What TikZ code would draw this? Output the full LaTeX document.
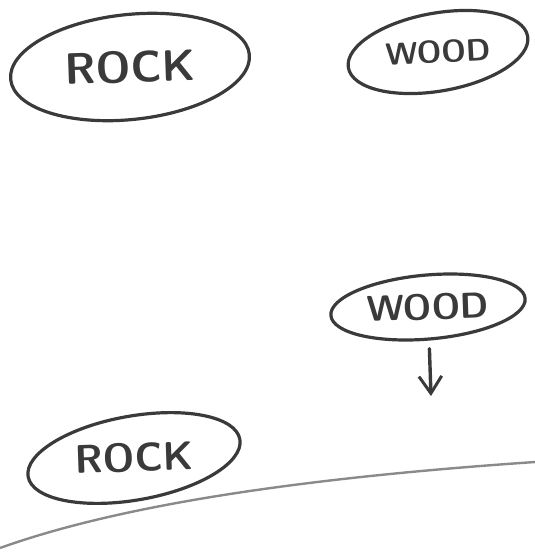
\documentclass[tikz,border=0pt]{standalone}
\usepackage{tikz}
\usetikzlibrary{positioning,arrows.meta,shapes.geometric}
\usepackage{xcolor}
\definecolor{ink}{HTML}{3A3A3A}
\definecolor{pencil}{HTML}{8A8A8A}

\begin{document}
\begin{tikzpicture}[x=1pt,y=-1pt,>={Straight Barb[length=6mm,width=8mm,line width=3pt]},
  blob/.style={draw=ink,ellipse,line width=3.2pt,inner sep=0pt,text=ink},
  bigword/.style={font=\sffamily\bfseries\fontsize{#1}{#1}\selectfont}]
\path[use as bounding box] (0,0) rectangle (535,552);
% before: rock and wood apart
\node[blob,bigword=44,minimum width=240pt,minimum height=105pt,rotate=6] (rock1) at (130,67) {\rotatebox{-4}{ROCK}};
\node[blob,bigword=31,minimum width=182pt,minimum height=78pt,rotate=10] (wood1) at (438,52) {\rotatebox{-7}{WOOD}};
% after: wood sinks, rock floats
\node[blob,bigword=36,minimum width=195pt,minimum height=64pt,rotate=5] (wood2) at (428,307) {\rotatebox{-3}{WOOD}};
\coordinate (sink) at (431,396);
\draw[->,draw=ink,line width=3.4pt,line cap=round,shorten <=8pt] (wood2) -- (sink);
\node[blob,bigword=40,minimum width=215pt,minimum height=84pt,rotate=10] (rock2) at (134,458) {\rotatebox{-8}{ROCK}};
\coordinate (shoreL) at (0,548);
\coordinate (shoreR) at (535,462);
\draw[pencil,line width=2.4pt] (shoreL) .. controls (120,505) and (300,478) .. (shoreR);
\end{tikzpicture}
\end{document}
